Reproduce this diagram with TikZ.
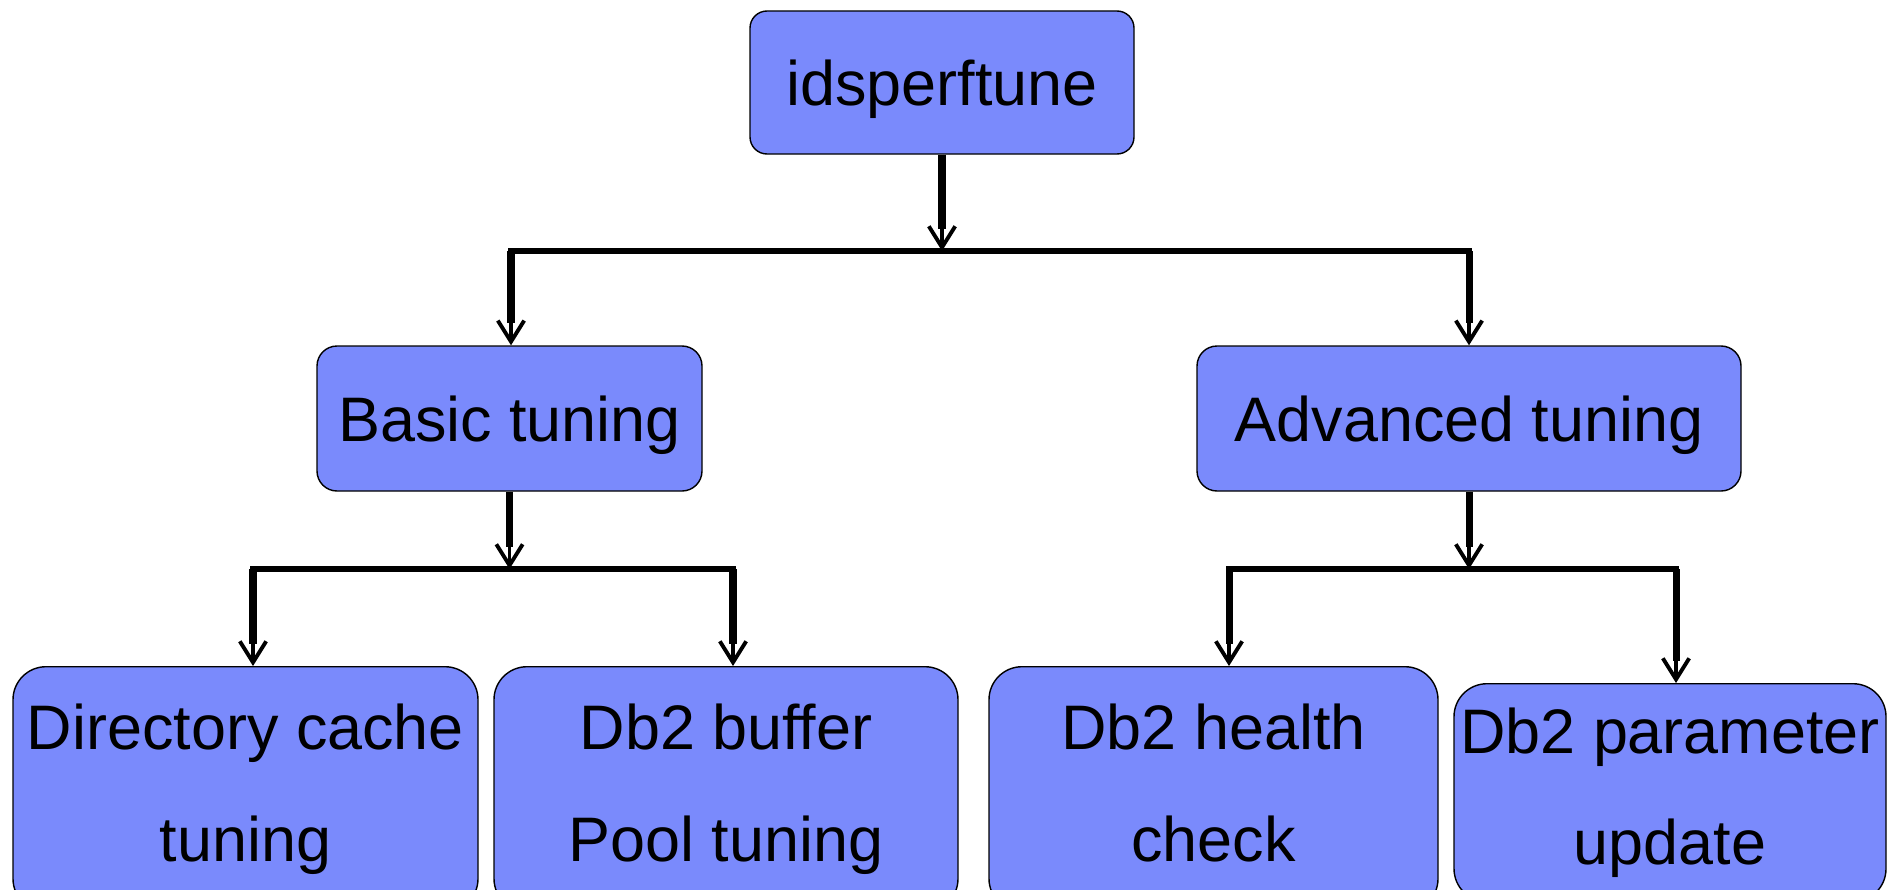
\documentclass[tikz,border=0pt]{standalone}
\usepackage{fontspec}
\setmainfont{Liberation Sans}
\usetikzlibrary{arrows.meta}
\definecolor{boxblue}{RGB}{122,138,252}
\def\boxfont{\fontsize{35.8}{63.7}\selectfont}

\begin{document}
\begin{tikzpicture}[draw=black]
    \tikzstyle{box}=[draw, fill=boxblue, line width=0.8pt, font=\boxfont, inner sep=0pt, align=center]
    \tikzstyle{leaf}=[box, rounded corners=0.66cm, anchor=north]
    \tikzstyle{bar}=[line width=3.6pt, line cap=rect]
    \tikzstyle{link}=[line width=2.2pt, -{Straight Barb[length=12pt,width=15pt]}, preaction={draw, line width=4pt, -, shorten >=12.5pt}]

    \useasboundingbox (0,0) rectangle (37.82,-17.78);
    \clip (0,0) rectangle (37.82,-17.78);

    %%%%%%%%%%%%%%%%%%%%%%%%%%%%%%%%%%%%%%%%%%%%
    %%% DRAW THE NODES
    %%%%%%%%%%%%%%%%%%%%%%%%%%%%%%%%%%%%%%%%%%%%
    \node[box, rounded corners=0.34cm, minimum width=7.68cm, minimum height=2.86cm, text depth=0pt] (root) at (18.84,-1.65) {idsperftune};

    \node[box, rounded corners=0.4cm, minimum width=7.7cm, minimum height=2.9cm, text depth=0pt] (basic) at (10.19,-8.37) {Basic tuning};
    \node[box, rounded corners=0.4cm, minimum width=10.88cm, minimum height=2.9cm, text depth=0pt] (adv) at (29.38,-8.37) {Advanced tuning};

    \node[leaf, minimum width=9.3cm, minimum height=4.9cm] (dir) at (4.91,-13.32) {Directory cache\\tuning};
    \node[leaf, minimum width=9.28cm, minimum height=4.9cm] (buf) at (14.52,-13.32) {Db2 buffer\\Pool tuning};
    \node[leaf, minimum width=8.98cm, minimum height=4.9cm] (health) at (24.27,-13.32) {Db2 health\\check\vphantom{g}};
    \node[leaf, minimum width=8.64cm, minimum height=4.36cm] (param) at (33.4,-13.66) {Db2 parameter\\update};

    % junctions on the bars
    \coordinate (J-0) at (18.84,-5.02);
    \coordinate (L-0) at (10.22,-5.02);
    \coordinate (R-0) at (29.38,-5.02);
    \coordinate (J-1) at (10.19,-11.38);
    \coordinate (L-1) at (5.06,-11.38);
    \coordinate (R-1) at (14.66,-11.38);
    \coordinate (J-2) at (29.38,-11.38);
    \coordinate (L-2) at (24.58,-11.38);
    \coordinate (R-2) at (33.52,-11.38);

    %%%%%%%%%%%%%%%%%%%%%%%%%%%%%%%%%%%%%%%%%%%%
    %%% DRAW THE PATHS
    %%%%%%%%%%%%%%%%%%%%%%%%%%%%%%%%%%%%%%%%%%%%
    \foreach \name in {0,1,2}
        \draw[bar] (L-\name) -- (R-\name);

    \draw[link] (root.south) -- (J-0);
    \draw[link] (basic.south) -- (J-1);
    \draw[link] (adv.south) -- (J-2);

    \draw[link] (L-0) -- (L-0 |- basic.north);
    \draw[link] (R-0) -- (R-0 |- adv.north);
    \draw[link] (L-1) -- (L-1 |- dir.north);
    \draw[link] (R-1) -- (R-1 |- buf.north);
    \draw[link] (L-2) -- (L-2 |- health.north);
    \draw[link] (R-2) -- (R-2 |- param.north);
\end{tikzpicture}
\end{document}
